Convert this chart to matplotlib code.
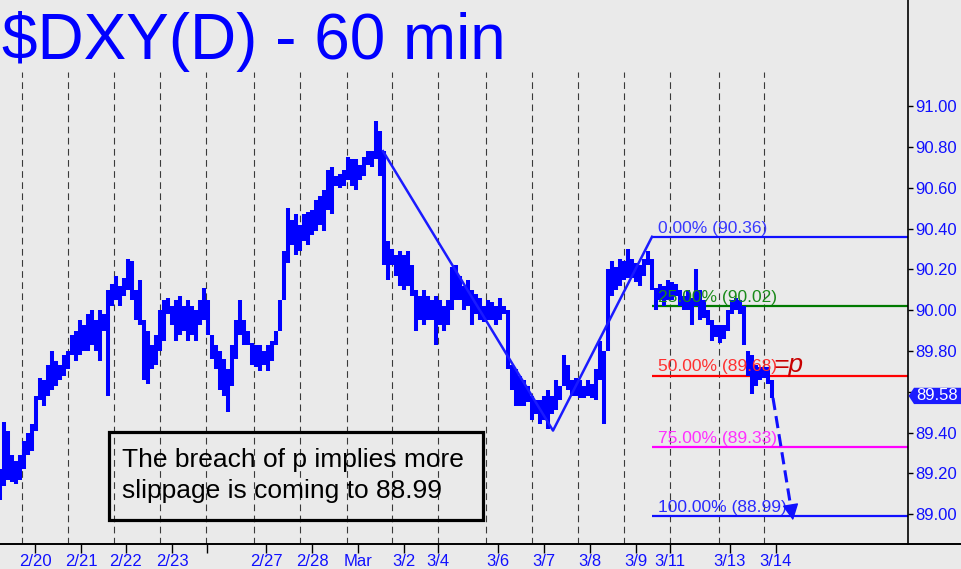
import numpy as np
import matplotlib
matplotlib.use("Agg")
import matplotlib.pyplot as plt
from matplotlib.patches import Rectangle, Polygon

plt.rcParams['font.family'] = ['Liberation Sans', 'DejaVu Sans']

# hourly bars of $DXY, one every second bar (x = bar number)
highs = [89.22, 89.45, 89.41, 89.29, 89.26, 89.29, 89.36, 89.40, 89.44, 89.58,
         89.67, 89.66, 89.73, 89.80, 89.75, 89.73, 89.78, 89.80, 89.88, 89.90,
         89.95, 89.93, 89.98, 90.00, 89.95, 90.00, 89.98, 90.10, 90.13, 90.17,
         90.12, 90.16, 90.25, 90.24, 90.10, 90.15, 89.95, 89.90, 89.83, 89.88,
         90.00, 90.05, 90.06, 90.02, 90.05, 90.07, 90.02, 90.05, 90.02, 90.00,
         90.05, 90.11, 90.05, 89.88, 89.83, 89.80, 89.76, 89.71, 89.83, 89.95,
         90.05, 89.95, 89.90, 89.84, 89.83, 89.83, 89.80, 89.83, 89.85, 89.90,
         90.05, 90.29, 90.50, 90.44, 90.47, 90.42, 90.47, 90.48, 90.49, 90.54,
         90.56, 90.59, 90.69, 90.70, 90.66, 90.67, 90.69, 90.75, 90.74, 90.74,
         90.71, 90.75, 90.78, 90.78, 90.93, 90.88, 90.78, 90.34, 90.30, 90.27,
         90.29, 90.27, 90.29, 90.22, 90.10, 90.07, 90.10, 90.07, 90.05, 90.07,
         90.05, 90.02, 90.05, 90.21, 90.22, 90.17, 90.12, 90.15, 90.10, 90.08,
         90.06, 90.02, 90.05, 90.04, 90.02, 90.06, 90.02, 90.00, 89.73, 89.71,
         89.68, 89.66, 89.63, 89.58, 89.56, 89.56, 89.58, 89.61, 89.58, 89.66,
         89.63, 89.78, 89.73, 89.66, 89.67, 89.66, 89.63, 89.66, 89.64, 89.71,
         89.85, 89.80, 90.20, 90.24, 90.21, 90.25, 90.24, 90.30, 90.25, 90.23,
         90.22, 90.25, 90.29, 90.25, 90.11, 90.13, 90.12, 90.15, 90.14, 90.13,
         90.10, 90.07, 90.10, 90.06, 90.20, 90.10, 90.05, 90.00, 89.95, 89.93,
         89.93, 89.93, 90.00, 90.05, 90.06, 90.05, 90.02, 89.80, 89.78, 89.73,
         89.72, 89.72, 89.72, 89.66]
lows = [89.07, 89.14, 89.17, 89.16, 89.15, 89.17, 89.22, 89.29, 89.31, 89.41,
        89.56, 89.53, 89.58, 89.61, 89.63, 89.66, 89.68, 89.71, 89.78, 89.75,
        89.78, 89.80, 89.80, 89.83, 89.80, 89.75, 89.90, 89.58, 90.02, 90.05,
        90.02, 90.07, 90.10, 90.05, 89.95, 89.93, 89.66, 89.64, 89.71, 89.73,
        89.80, 89.85, 89.98, 89.93, 89.85, 89.88, 89.90, 89.85, 89.88, 89.85,
        89.93, 89.95, 89.88, 89.76, 89.71, 89.61, 89.58, 89.50, 89.63, 89.76,
        89.88, 89.83, 89.83, 89.73, 89.72, 89.70, 89.73, 89.70, 89.75, 89.83,
        89.90, 90.05, 90.23, 90.32, 90.27, 90.29, 90.34, 90.32, 90.37, 90.39,
        90.42, 90.39, 90.49, 90.47, 90.61, 90.60, 90.61, 90.64, 90.61, 90.59,
        90.64, 90.66, 90.71, 90.70, 90.74, 90.66, 90.22, 90.15, 90.22, 90.17,
        90.12, 90.10, 90.12, 90.07, 89.90, 89.95, 89.93, 89.95, 89.95, 89.83,
        89.93, 89.90, 89.93, 90.00, 90.05, 90.05, 90.00, 90.02, 89.93, 89.98,
        89.95, 89.94, 89.95, 89.95, 89.93, 89.95, 89.98, 89.71, 89.61, 89.53,
        89.53, 89.53, 89.55, 89.46, 89.49, 89.44, 89.46, 89.42, 89.49, 89.51,
        89.56, 89.63, 89.61, 89.58, 89.58, 89.57, 89.57, 89.58, 89.57, 89.56,
        89.66, 89.44, 89.80, 90.07, 90.10, 90.12, 90.15, 90.16, 90.16, 90.14,
        90.12, 90.17, 90.22, 90.10, 90.00, 90.05, 90.02, 90.05, 90.05, 90.07,
        90.02, 90.00, 90.00, 89.93, 90.02, 89.95, 89.96, 89.93, 89.85, 89.87,
        89.84, 89.86, 89.90, 89.98, 90.00, 89.98, 89.83, 89.68, 89.59, 89.63,
        89.66, 89.67, 89.64, 89.57]
bar_x = np.arange(len(highs)) * 2

# session boundaries (dashed) and date ticks, in bar numbers
day_lines = [11, 34, 57, 80, 103, 127, 150, 173.5, 196, 219, 243, 266, 289,
             312, 335, 359.5, 382]
tick_pos = [17.5, 40.5, 63, 86, 103.5, 133, 156, 179, 202, 219, 249, 272, 295,
            318, 335, 365, 388]
tick_labels = ['2/20', '2/21', '2/22', '2/23', '', '2/27', '2/28', 'Mar', '3/2',
               '3/4', '3/6', '3/7', '3/8', '3/9', '3/11', '3/13', '3/14']

price_ticks = [89.0, 89.2, 89.4, 89.6, 89.8, 90.0, 90.2, 90.4, 90.6, 90.8, 91.0]

# swing used for the retracement
swing_x = [191.5, 276.5, 326]
swing_y = [90.78, 89.41, 90.36]

fib_names = ['0.00%', '25.00%', '50.00%', '75.00%', '100.00%']
fib_levels = [90.36, 90.02, 89.68, 89.33, 88.99]
fib_line_colors = ['#1010ff', '#007a00', '#ff0000', '#ff00ff', '#1010ff']
fib_text_colors = ['#3838ff', '#1a8a1a', '#ff3030', '#ff30ff', '#2a2aff']

last_price = 89.58
target_from = (386.5, 89.57)
target_to = (396.5, 88.97)

bg = '#eaeaea'
fig = plt.figure(figsize=(9.61, 5.69), dpi=100, facecolor=bg)
ax = fig.add_axes([0, 25 / 569, 1, 544 / 569], facecolor=bg)
ax.set_xlim(0, 480.5)
ax.set_ylim(88.854, 91.521)

for d in day_lines:
    ax.axvline(d, ymin=0, ymax=0.8676, color='#3a3a3a', lw=0.8,
               linestyle=(0, (6, 4)), zorder=1)

ax.vlines(bar_x, lows, highs, colors='#0000ff', linewidth=2.9, zorder=3)

ax.plot(swing_x, swing_y, color='#1a1aff', lw=1.8, zorder=4)

ax.hlines(fib_levels, 326, 454, colors=fib_line_colors, lw=1.6, zorder=2)
for name, lev, c in zip(fib_names, fib_levels, fib_text_colors):
    ax.annotate(f'{name} ({lev:.2f})', (329, lev), xytext=(0, 3),
                textcoords='offset points', fontsize=12.5, color=c,
                va='baseline', ha='left', zorder=5)

ax.annotate('=p', (386.5, fib_levels[2]), xytext=(0, 2.5),
            textcoords='offset points', fontsize=19, color='#c80000',
            style='italic', va='baseline', ha='left', zorder=6)

# projected slide to the 100% level
fx, fy = target_from
tx, ty = target_to
bx = tx - 0.11 * (tx - fx)
by = ty - 0.11 * (ty - fy)
ax.plot([fx, bx], [fy, by], color='#1010ff', lw=2.2,
        linestyle=(0, (4, 2)), zorder=6)
ax.annotate('', xy=(tx, ty), xytext=(bx, by),
            arrowprops=dict(arrowstyle='-|>,head_length=1.0,head_width=0.5',
                            color='#1010ff', lw=1, shrinkA=0, shrinkB=0,
                            mutation_scale=10), zorder=6)

# last price flag (covers the 89.60 label, as in the source chart)
h = 0.04
flag = Polygon([(454.3, last_price), (457, last_price + h), (480.5, last_price + h),
                (480.5, last_price - h), (457, last_price - h)],
               closed=True, fc='#1c1cff', ec='none', clip_on=False, zorder=7)
ax.add_patch(flag)
ax.text(458.0, last_price, f'{last_price:.2f}', color='white', fontsize=12,
        va='center', ha='left', zorder=8)

# comment box
ax.add_patch(Rectangle((109 / 961, 24 / 544), 374 / 961, 88 / 544,
                       transform=ax.transAxes, fill=False, ec='black', lw=2.3,
                       zorder=6))
ax.text(122 / 961, 77 / 544, 'The breach of p implies more', transform=ax.transAxes,
        fontsize=19, color='black', va='baseline', ha='left', zorder=6)
ax.text(122 / 961, 46 / 544, 'slippage is coming to 88.99', transform=ax.transAxes,
        fontsize=19, color='black', va='baseline', ha='left', zorder=6)

# axes styling
for s in ['top', 'left']:
    ax.spines[s].set_visible(False)
ax.spines['right'].set_position(('data', 454))
ax.spines['right'].set_linewidth(1.2)
ax.spines['bottom'].set_linewidth(1.4)
ax.yaxis.tick_right()
ax.set_yticks(price_ticks)
ax.set_yticklabels(['' if abs(v - last_price) < 0.05 else f'{v:.2f}'
                    for v in price_ticks])
ax.tick_params(axis='y', direction='out', length=3.6, width=1, pad=1.5,
               labelsize=12, labelcolor='#1010ff')
ax.set_xticks(tick_pos)
ax.set_xticklabels(tick_labels)
ax.tick_params(axis='x', direction='out', length=6.5, width=1, pad=0.5,
               labelsize=12, labelcolor='#1010ff')

fig.text(2 / 961, 1 - 59 / 569, '$DXY(D) - 60 min', fontsize=46, color='#0000ff',
         va='baseline', ha='left')

fig.savefig('out.png', dpi=100, facecolor=bg)
